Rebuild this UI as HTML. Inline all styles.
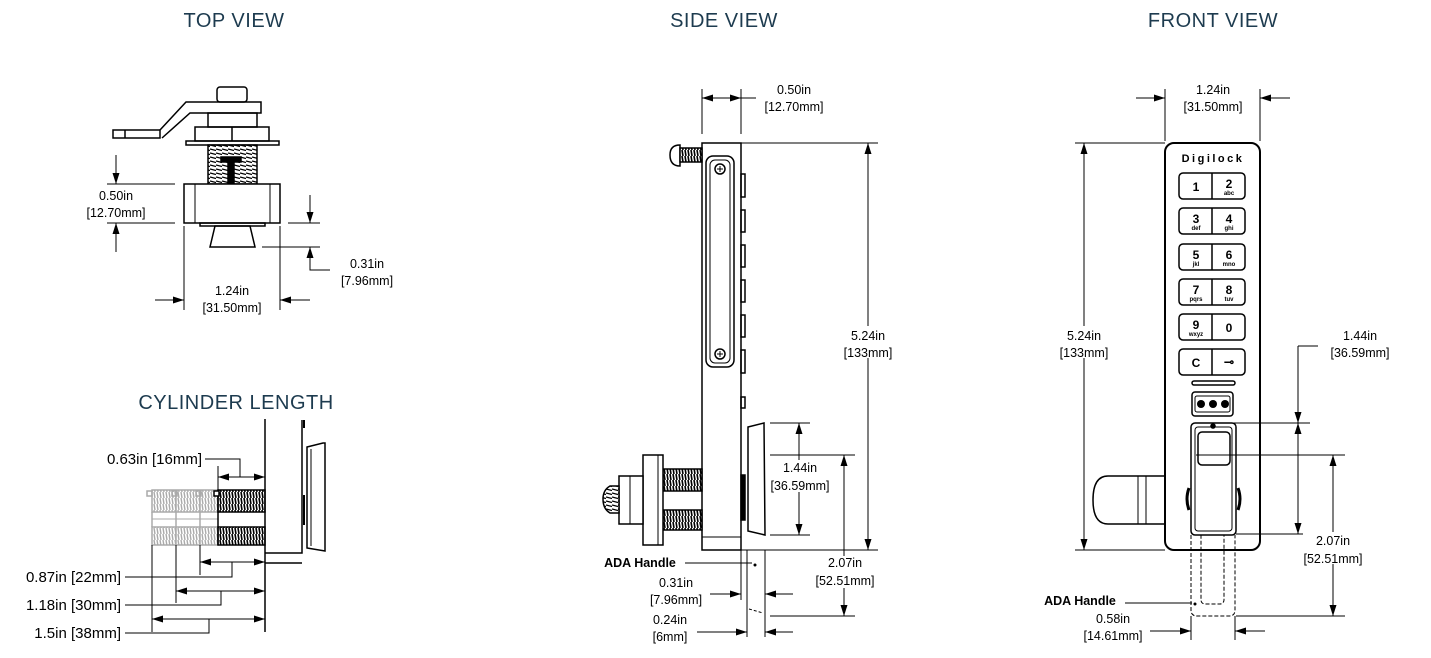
<!DOCTYPE html>
<html><head><meta charset="utf-8"><style>
html,body{margin:0;padding:0;background:#fff;}
svg{display:block;font-family:"Liberation Sans",sans-serif;}
.t{font-size:20px;fill:#1d3b4f;text-anchor:middle;letter-spacing:0.5px}
.d{font-size:12.5px;text-anchor:middle;fill:#000}
.c{font-size:15px;fill:#000;text-anchor:end}
.l{stroke:#000;stroke-width:1;fill:none}
.s{stroke:#000;stroke-width:1.5;fill:none}
.k{font-size:12px;font-weight:bold;text-anchor:middle}
.ks{font-size:6px;font-weight:bold;text-anchor:middle}
</style></head><body>
<svg width="1431" height="658" viewBox="0 0 1431 658" xmlns="http://www.w3.org/2000/svg">
<defs>
<marker id="a" markerWidth="11" markerHeight="7" refX="11" refY="3.5" orient="auto" markerUnits="userSpaceOnUse"><path d="M0,0L11,3.5L0,7z" fill="#000"/></marker>
<pattern id="th" width="3" height="6" patternUnits="userSpaceOnUse"><rect width="3" height="6" fill="#fff"/><line x1="1" y1="0" x2="2" y2="6" stroke="#000" stroke-width="1.6"/></pattern>
<pattern id="tg" width="3" height="6" patternUnits="userSpaceOnUse"><rect width="3" height="6" fill="#fff"/><line x1="1" y1="0" x2="2" y2="6" stroke="#aaa" stroke-width="1.4"/></pattern>
<pattern id="th2" width="6" height="4" patternUnits="userSpaceOnUse"><rect width="6" height="4" fill="#fff"/><line x1="0" y1="1" x2="6" y2="2.5" stroke="#000" stroke-width="1.3"/></pattern>
</defs>

<text class="t" x="234" y="27">TOP VIEW</text>
<text class="t" x="724" y="27">SIDE VIEW</text>
<text class="t" x="1213" y="27">FRONT VIEW</text>
<text class="t" x="236" y="409">CYLINDER LENGTH</text>

<!-- TOP VIEW -->
<g class="s">
<path d="M113,130 L160,130 L160,138 L113,138 Z"/>
<line x1="125" y1="130" x2="125" y2="138"/>
<path d="M160,130 L186,102 L261,102 L261,113 L190,113 L162,138"/>
<rect x="217" y="87" width="30" height="15" rx="3"/>
<rect x="208" y="113" width="49" height="14"/>
<rect x="195" y="127" width="74" height="14"/>
<line x1="232" y1="127" x2="232" y2="141"/>
<rect x="186" y="141" width="93" height="4"/>
<rect x="208" y="145" width="49" height="39" fill="url(#th2)"/>
<rect x="221" y="157" width="20" height="5" fill="#000"/>
<rect x="228" y="162" width="6" height="22" fill="#000"/>
<rect x="184" y="184" width="96" height="39" fill="#fff"/>
<line x1="195" y1="184" x2="195" y2="223" stroke-width="1"/>
<line x1="270" y1="184" x2="270" y2="223" stroke-width="1"/>
<rect x="200" y="223" width="65" height="3"/>
<path d="M215,226 L250,226 L255,247 L210,247 Z"/>
</g>
<g class="l">
<line x1="107" y1="184" x2="175" y2="184"/><line x1="107" y1="223" x2="175" y2="223"/>
<line x1="116" y1="155" x2="116" y2="184" marker-end="url(#a)"/>
<line x1="116" y1="252" x2="116" y2="223" marker-end="url(#a)"/>
<line x1="288" y1="223" x2="320" y2="223"/><line x1="262" y1="247" x2="320" y2="247"/>
<line x1="310" y1="195" x2="310" y2="223" marker-end="url(#a)"/>
<polyline points="330,270 310,270 310,247" marker-end="url(#a)"/>
<line x1="184" y1="226" x2="184" y2="310"/><line x1="280" y1="226" x2="280" y2="310"/>
<line x1="155" y1="300" x2="184" y2="300" marker-end="url(#a)"/>
<line x1="310" y1="300" x2="280" y2="300" marker-end="url(#a)"/>
</g>
<text class="d" x="116" y="200">0.50in</text><text class="d" x="116" y="217">[12.70mm]</text>
<text class="d" x="367" y="268">0.31in</text><text class="d" x="367" y="285">[7.96mm]</text>
<text class="d" x="232" y="295">1.24in</text><text class="d" x="232" y="312">[31.50mm]</text>

<!-- CYLINDER LENGTH -->
<g stroke="#aaa" stroke-width="1.5" fill="none">
<rect x="152" y="490" width="66" height="22" fill="url(#tg)"/>
<rect x="152" y="527" width="66" height="18" fill="url(#tg)"/>
<line x1="152" y1="512" x2="152" y2="527"/><line x1="176" y1="490" x2="176" y2="545"/><line x1="200" y1="490" x2="200" y2="545"/>
<line x1="152" y1="519" x2="218" y2="519" stroke-width="1"/>
<rect x="147" y="491" width="5" height="5"/><rect x="172" y="491" width="5" height="5"/><rect x="196" y="491" width="5" height="5"/>
</g>
<g class="s">
<rect x="218" y="490" width="47" height="22" fill="url(#th)"/>
<rect x="218" y="527" width="47" height="18" fill="url(#th)"/>
<line x1="218" y1="490" x2="218" y2="545"/>
<rect x="214" y="491" width="5" height="5" fill="#fff"/>
<line x1="265" y1="419" x2="265" y2="632"/>
<polyline points="265,553 302,553 302,420"/>
<polyline points="265,563 302,563"/>
<line x1="304" y1="420" x2="304" y2="428" stroke-width="2"/>
<line x1="304" y1="495" x2="304" y2="525" stroke-width="2"/>
<path d="M307,447 L323,443 L325,443 L325,551 L307,548 Z"/>
<line x1="311" y1="449" x2="311" y2="546" stroke-width="1"/>
</g>
<g class="l">
<line x1="218" y1="466" x2="218" y2="490"/>
<line x1="240" y1="477" x2="218" y2="477" marker-end="url(#a)"/>
<line x1="240" y1="477" x2="265" y2="477" marker-end="url(#a)"/>
<polyline points="240,477 240,459 205,459"/>
<line x1="200" y1="545" x2="200" y2="575"/>
<line x1="232" y1="562" x2="200" y2="562" marker-end="url(#a)"/>
<line x1="232" y1="562" x2="265" y2="562" marker-end="url(#a)"/>
<polyline points="232,562 232,577 125,577"/>
<line x1="176" y1="545" x2="176" y2="603"/>
<line x1="221" y1="591" x2="176" y2="591" marker-end="url(#a)"/>
<line x1="221" y1="591" x2="265" y2="591" marker-end="url(#a)"/>
<polyline points="221,591 221,605 125,605"/>
<line x1="152" y1="545" x2="152" y2="632"/>
<line x1="209" y1="619" x2="152" y2="619" marker-end="url(#a)"/>
<line x1="209" y1="619" x2="265" y2="619" marker-end="url(#a)"/>
<polyline points="209,619 209,633 125,633"/>
</g>
<text class="c" x="202" y="464">0.63in [16mm]</text>
<text class="c" x="121" y="582">0.87in [22mm]</text>
<text class="c" x="121" y="610">1.18in [30mm]</text>
<text class="c" x="121" y="638">1.5in [38mm]</text>

<!-- SIDE VIEW -->
<g class="s">
<rect x="702" y="143" width="39" height="407" fill="#fff"/>
<line x1="702" y1="537" x2="741" y2="537" stroke-width="1"/>
<path d="M680,145 Q670,145 670,155 Q670,166 680,166 Z" fill="#fff"/>
<rect x="680" y="148" width="22" height="14" fill="url(#th)"/>
<rect x="706" y="156" width="28" height="211" rx="7"/>
<rect x="710" y="160" width="20" height="203" rx="5" stroke-width="1"/>
<circle cx="720" cy="169" r="5"/><circle cx="720" cy="354" r="5"/>
<path d="M717,169h6M720,166v6M717,354h6M720,351v6" stroke-width="1"/>
<rect x="741" y="174" width="4" height="23"/><rect x="741" y="210" width="4" height="22"/>
<rect x="741" y="245" width="4" height="22"/><rect x="741" y="280" width="4" height="22"/>
<rect x="741" y="315" width="4" height="22"/><rect x="741" y="350" width="4" height="23"/>
<rect x="741" y="397" width="4" height="11"/>
<rect x="741" y="475" width="4" height="45" fill="#000"/>
<path d="M748,427 L764,423 L765,535 L748,531 Z" fill="#fff"/>
<rect x="663" y="469" width="39" height="22" fill="url(#th)"/>
<rect x="663" y="510" width="39" height="20" fill="url(#th)"/>
<rect x="643" y="455" width="20" height="90" fill="#fff"/>
<line x1="658" y1="455" x2="658" y2="545" stroke-width="1"/>
<rect x="619" y="476" width="24" height="48" fill="#fff"/>
<line x1="630" y1="476" x2="630" y2="524" stroke-width="1"/>
<path d="M619,486 L610,486 Q603,490 603,499 Q603,509 610,513 L619,513 Z" fill="url(#th2)"/>
</g>
<g class="l">
<line x1="702" y1="89" x2="702" y2="134"/><line x1="741" y1="89" x2="741" y2="134"/>
<line x1="721" y1="98" x2="702" y2="98" marker-end="url(#a)"/>
<line x1="721" y1="98" x2="741" y2="98" marker-end="url(#a)"/>
<line x1="741" y1="98" x2="756" y2="98"/>
<line x1="741" y1="143" x2="878" y2="143"/><line x1="741" y1="550" x2="878" y2="550"/>
<line x1="868" y1="330" x2="868" y2="143" marker-end="url(#a)"/>
<line x1="868" y1="330" x2="868" y2="550" marker-end="url(#a)"/>
<line x1="770" y1="423" x2="810" y2="423"/><line x1="770" y1="535" x2="810" y2="535"/>
<line x1="799" y1="470" x2="799" y2="423" marker-end="url(#a)"/>
<line x1="799" y1="470" x2="799" y2="535" marker-end="url(#a)"/>
<line x1="770" y1="455" x2="855" y2="455"/><line x1="770" y1="616" x2="855" y2="616"/>
<line x1="844" y1="560" x2="844" y2="455" marker-end="url(#a)"/>
<line x1="844" y1="560" x2="844" y2="616" marker-end="url(#a)"/>
<line x1="747" y1="550" x2="747" y2="637"/><line x1="765" y1="550" x2="765" y2="637"/>
<path d="M749,609 L763,613" stroke-dasharray="3,2"/>
<line x1="741" y1="550" x2="741" y2="600"/>
<line x1="685" y1="563" x2="752" y2="563"/>
<line x1="710" y1="594" x2="741" y2="594" marker-end="url(#a)"/>
<line x1="793" y1="594" x2="765" y2="594" marker-end="url(#a)"/>
<line x1="697" y1="632" x2="747" y2="632" marker-end="url(#a)"/>
<line x1="793" y1="632" x2="765" y2="632" marker-end="url(#a)"/>
</g>
<circle cx="755" cy="565" r="1.5"/>
<text class="d" x="794" y="94">0.50in</text><text class="d" x="794" y="111">[12.70mm]</text>
<rect x="842" y="326" width="52" height="32" fill="#fff"/>
<text class="d" x="868" y="340">5.24in</text><text class="d" x="868" y="357">[133mm]</text>
<rect x="772" y="460" width="56" height="32" fill="#fff"/>
<text class="d" x="800" y="472">1.44in</text><text class="d" x="800" y="490">[36.59mm]</text>
<rect x="815" y="556" width="60" height="32" fill="#fff"/>
<text class="d" x="845" y="567">2.07in</text><text class="d" x="845" y="585">[52.51mm]</text>
<text x="640" y="567" style="font-size:12.5px;font-weight:bold;text-anchor:middle">ADA Handle</text>
<text class="d" x="676" y="587">0.31in</text><text class="d" x="676" y="604">[7.96mm]</text>
<text class="d" x="670" y="624">0.24in</text><text class="d" x="670" y="641">[6mm]</text>

<!-- FRONT VIEW -->
<g class="s">
<path d="M1165,476 L1108,476 Q1093,476 1093,500 Q1093,524 1108,524 L1165,524" fill="#fff"/>
<line x1="1138" y1="476" x2="1138" y2="524" stroke-width="1"/>
<line x1="1146" y1="476" x2="1146" y2="524" stroke-width="1"/>
<rect x="1165" y="143" width="95" height="407" rx="9" fill="#fff" stroke-width="2"/>
<path d="M1191,535 L1191,610 Q1191,616 1197,616 L1229,616 Q1235,616 1235,610 L1235,535" stroke-dasharray="4,2" stroke-width="1"/>
<rect x="1201" y="526" width="23" height="78" rx="4" stroke-dasharray="4,2" stroke-width="1"/>
</g>
<text x="1213" y="162" style="font-size:11px;font-weight:bold;text-anchor:middle;letter-spacing:2.5px">Digilock</text>
<g class="s" stroke-width="1.8" fill="#fff">
<rect x="1179" y="173" width="66" height="26" rx="4"/><line x1="1212" y1="173" x2="1212" y2="199"/>
<rect x="1179" y="208" width="66" height="26" rx="4"/><line x1="1212" y1="208" x2="1212" y2="234"/>
<rect x="1179" y="244" width="66" height="26" rx="4"/><line x1="1212" y1="244" x2="1212" y2="270"/>
<rect x="1179" y="279" width="66" height="26" rx="4"/><line x1="1212" y1="279" x2="1212" y2="305"/>
<rect x="1179" y="314" width="66" height="26" rx="4"/><line x1="1212" y1="314" x2="1212" y2="340"/>
<rect x="1179" y="349" width="66" height="26" rx="4"/><line x1="1212" y1="349" x2="1212" y2="375"/>
<rect x="1192" y="381" width="43" height="4" rx="2"/>
<rect x="1192" y="392" width="41" height="24" rx="3"/>
<rect x="1195" y="396" width="35" height="16" rx="2" stroke-width="1"/>
</g>
<circle cx="1201" cy="404" r="4"/><circle cx="1213" cy="404" r="4"/><circle cx="1225" cy="404" r="4"/>
<text class="k" x="1196" y="191">1</text>
<text class="k" x="1229" y="188">2</text><text class="ks" x="1229" y="195">abc</text>
<text class="k" x="1196" y="223">3</text><text class="ks" x="1196" y="230">def</text>
<text class="k" x="1229" y="223">4</text><text class="ks" x="1229" y="230">ghi</text>
<text class="k" x="1196" y="259">5</text><text class="ks" x="1196" y="266">jkl</text>
<text class="k" x="1229" y="259">6</text><text class="ks" x="1229" y="266">mno</text>
<text class="k" x="1196" y="294">7</text><text class="ks" x="1196" y="301">pqrs</text>
<text class="k" x="1229" y="294">8</text><text class="ks" x="1229" y="301">tuv</text>
<text class="k" x="1196" y="329">9</text><text class="ks" x="1196" y="336">wxyz</text>
<text class="k" x="1229" y="332">0</text>
<text class="k" x="1196" y="367">C</text>
<text class="k" x="1229" y="366">⊸</text>
<g class="s">
<rect x="1191" y="423" width="45" height="112" rx="4" fill="#fff"/>
<rect x="1195" y="427" width="37" height="104" rx="3" stroke-width="1"/>
<rect x="1198" y="432" width="32" height="33" rx="4"/>
<circle cx="1213" cy="426" r="2" fill="#000"/>
<path d="M1189,488 Q1185,499 1189,510" stroke-width="3"/>
<path d="M1238,488 Q1242,499 1238,510" stroke-width="3"/>
</g>
<g class="l">
<line x1="1165" y1="89" x2="1165" y2="141"/><line x1="1260" y1="89" x2="1260" y2="141"/>
<line x1="1136" y1="98" x2="1165" y2="98" marker-end="url(#a)"/>
<line x1="1290" y1="98" x2="1260" y2="98" marker-end="url(#a)"/>
<line x1="1075" y1="143" x2="1165" y2="143"/><line x1="1075" y1="550" x2="1165" y2="550"/>
<line x1="1084" y1="330" x2="1084" y2="143" marker-end="url(#a)"/>
<line x1="1084" y1="330" x2="1084" y2="550" marker-end="url(#a)"/>
<line x1="1213" y1="423" x2="1310" y2="423"/><line x1="1236" y1="534" x2="1310" y2="534"/>
<line x1="1298" y1="346" x2="1318" y2="346"/>
<line x1="1298" y1="346" x2="1298" y2="423" marker-end="url(#a)"/>
<line x1="1298" y1="480" x2="1298" y2="423" marker-end="url(#a)"/>
<line x1="1298" y1="480" x2="1298" y2="534" marker-end="url(#a)"/>
<line x1="1196" y1="455" x2="1345" y2="455"/>
<line x1="1236" y1="616" x2="1345" y2="616"/>
<line x1="1333" y1="540" x2="1333" y2="455" marker-end="url(#a)"/>
<line x1="1333" y1="540" x2="1333" y2="616" marker-end="url(#a)"/>
<line x1="1125" y1="603" x2="1192" y2="603"/>
<line x1="1191" y1="616" x2="1191" y2="640"/><line x1="1235" y1="616" x2="1235" y2="640"/>
<line x1="1150" y1="631" x2="1191" y2="631" marker-end="url(#a)"/>
<line x1="1265" y1="631" x2="1235" y2="631" marker-end="url(#a)"/>
</g>
<circle cx="1195" cy="604" r="1.5"/>
<text class="d" x="1213" y="94">1.24in</text><text class="d" x="1213" y="111">[31.50mm]</text>
<rect x="1058" y="326" width="52" height="32" fill="#fff"/>
<text class="d" x="1084" y="340">5.24in</text><text class="d" x="1084" y="357">[133mm]</text>
<text class="d" x="1360" y="340">1.44in</text><text class="d" x="1360" y="357">[36.59mm]</text>
<rect x="1303" y="532" width="60" height="32" fill="#fff"/>
<text class="d" x="1333" y="545">2.07in</text><text class="d" x="1333" y="563">[52.51mm]</text>
<text x="1080" y="605" style="font-size:12.5px;font-weight:bold;text-anchor:middle">ADA Handle</text>
<text class="d" x="1113" y="623">0.58in</text><text class="d" x="1113" y="640">[14.61mm]</text>
</svg>
</body></html>
